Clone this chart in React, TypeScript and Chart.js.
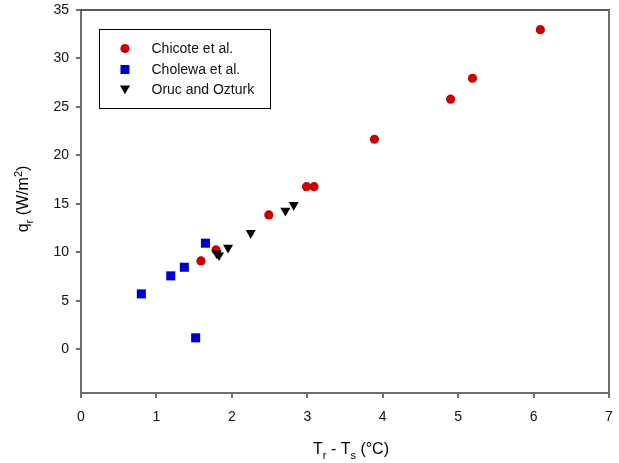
import React, { useEffect, useRef } from 'react';
import { Chart, registerables } from 'chart.js';

Chart.register(...registerables);

// ---- data ----
const chicoteX = [1.59, 1.79, 2.49, 2.99, 3.09, 3.89, 4.9, 5.19, 6.09];
const chicoteY = [9.12, 10.26, 13.87, 16.78, 16.78, 21.67, 25.8, 27.96, 32.97];
const cholewaX = [0.8, 1.19, 1.37, 1.52, 1.65];
const cholewaY = [5.72, 7.58, 8.47, 1.19, 10.95];
const orucX = [1.8, 1.83, 1.95, 2.25, 2.71, 2.82];
const orucY = [9.9, 9.7, 10.49, 12.0, 14.3, 14.9];

const seriesNames = ['Chicote et al.', 'Cholewa et al.', 'Oruc and Ozturk'];
const xTicks = [0, 1, 2, 3, 4, 5, 6, 7];
const yTicks = [0, 5, 10, 15, 20, 25, 30, 35];
const xMin = 0;
const xMax = 7;
const yMin = -4.5;
const yMax = 35;

const RED = '#cc0000';
const BLUE = '#0000cc';
const BLACK = '#000000';
const AXIS = '#6e6e6e';
const FONT = '"Liberation Sans", Arial, sans-serif';

type Seg = { t: string; k?: 'sub' | 'sup' };

function segFont(size: number, k?: string) {
  return `${k ? Math.round(size * 0.68) : size}px ${FONT}`;
}

function measureRich(ctx: CanvasRenderingContext2D, segs: Seg[], size: number) {
  let w = 0;
  for (const s of segs) {
    ctx.font = segFont(size, s.k);
    w += ctx.measureText(s.t).width;
  }
  return w;
}

function drawRich(ctx: CanvasRenderingContext2D, segs: Seg[], size: number, x: number, y: number) {
  ctx.textBaseline = 'alphabetic';
  ctx.textAlign = 'left';
  for (const s of segs) {
    ctx.font = segFont(size, s.k);
    let dy = 0;
    if (s.k === 'sub') dy = size * 0.3;
    if (s.k === 'sup') dy = -size * 0.42;
    ctx.fillText(s.t, x, y + dy);
    x += ctx.measureText(s.t).width;
  }
}

function marker(ctx: CanvasRenderingContext2D, kind: string, x: number, y: number, color: string) {
  ctx.fillStyle = color;
  ctx.beginPath();
  if (kind === 'circle') {
    ctx.arc(x, y, 4.6, 0, Math.PI * 2);
  } else if (kind === 'rect') {
    ctx.rect(x - 4.5, y - 4.5, 9, 9);
  } else {
    const r = 5.8;
    ctx.moveTo(x, y + r);
    ctx.lineTo(x - r * Math.sin(Math.PI / 3), y - r / 2);
    ctx.lineTo(x + r * Math.sin(Math.PI / 3), y - r / 2);
    ctx.closePath();
  }
  ctx.fill();
}

const decorPlugin = {
  id: 'decor',
  afterDraw(chart: any) {
    const ctx: CanvasRenderingContext2D = chart.ctx;
    const a = chart.chartArea;
    ctx.save();
    // top and right frame
    ctx.strokeStyle = '#222';
    ctx.lineWidth = 1.5;
    ctx.beginPath();
    ctx.moveTo(a.left, a.top);
    ctx.lineTo(a.right + 1, a.top);
    ctx.stroke();
    ctx.strokeStyle = AXIS;
    ctx.lineWidth = 2;
    ctx.beginPath();
    ctx.moveTo(a.right, a.top);
    ctx.lineTo(a.right, a.bottom);
    ctx.stroke();

    // x title
    ctx.fillStyle = '#000';
    const xs: Seg[] = [{ t: 'T' }, { t: 'r', k: 'sub' }, { t: ' - T' }, { t: 's', k: 'sub' }, { t: ' (°C)' }];
    const xw = measureRich(ctx, xs, 16);
    drawRich(ctx, xs, 16, 351 - xw / 2, 454);

    // y title
    const ys: Seg[] = [{ t: 'q' }, { t: 'r', k: 'sub' }, { t: ' (W/m' }, { t: '2', k: 'sup' }, { t: ')' }];
    const yw = measureRich(ctx, ys, 16);
    ctx.save();
    ctx.translate(28.3, 199);
    ctx.rotate(-Math.PI / 2);
    drawRich(ctx, ys, 16, -yw / 2, 0);
    ctx.restore();

    // legend
    ctx.fillStyle = '#fff';
    ctx.fillRect(99.5, 29.5, 171, 79);
    ctx.strokeStyle = '#000';
    ctx.lineWidth = 1;
    ctx.strokeRect(99.5, 29.5, 171, 79);
    const kinds = ['circle', 'rect', 'triangle'];
    const colors = [RED, BLUE, BLACK];
    const rows = [48.5, 69.5, 90];
    ctx.font = `14px ${FONT}`;
    for (let i = 0; i < 3; i++) {
      marker(ctx, kinds[i], 125, rows[i] + (i === 2 ? -1.5 : 0), colors[i]);
      ctx.fillStyle = '#111';
      ctx.textBaseline = 'middle';
      ctx.textAlign = 'left';
      ctx.fillText(seriesNames[i], 151.5, rows[i] + 0.5);
    }
    ctx.restore();
  },
};

function pts(xs: number[], ys: number[]) {
  return xs.map((x, i) => ({ x, y: ys[i] }));
}

export default function App() {
  const ref = useRef<HTMLCanvasElement | null>(null);
  useEffect(() => {
    if (!ref.current) return;
    const chart = new Chart(ref.current, {
      type: 'scatter',
      data: {
        datasets: [
          {
            label: seriesNames[0],
            data: pts(chicoteX, chicoteY),
            pointStyle: 'circle',
            pointRadius: 4.6,
            backgroundColor: RED,
            borderColor: RED,
            borderWidth: 0,
            order: 2,
          },
          {
            label: seriesNames[1],
            data: pts(cholewaX, cholewaY),
            pointStyle: 'rect',
            pointRadius: 6.4,
            backgroundColor: BLUE,
            borderColor: BLUE,
            borderWidth: 0,
            order: 1,
          },
          {
            label: seriesNames[2],
            data: pts(orucX, orucY),
            pointStyle: 'triangle',
            pointRotation: 180,
            pointRadius: 5.8,
            backgroundColor: BLACK,
            borderColor: BLACK,
            borderWidth: 0,
            order: 0,
          },
        ],
      },
      options: {
        animation: false,
        responsive: false,
        events: [],
        layout: { padding: { left: 0, right: 10, top: 10, bottom: 0 } },
        plugins: { legend: { display: false }, tooltip: { enabled: false } },
        scales: {
          x: {
            type: 'linear',
            min: xMin,
            max: xMax,
            afterBuildTicks: (s: any) => {
              s.ticks = xTicks.map((v) => ({ value: v }));
            },
            afterFit: (s: any) => {
              s.height = 70;
              s.paddingLeft = 0;
              s.paddingRight = 0;
            },
            ticks: {
              color: '#111',
              font: { family: FONT, size: 14 },
              padding: 11,
              maxRotation: 0,
              autoSkip: false,
            },
            grid: {
              display: true,
              drawOnChartArea: false,
              drawTicks: true,
              tickLength: 5,
              color: AXIS,
              lineWidth: 2,
            },
            border: { display: true, color: AXIS, width: 2 },
          },
          y: {
            type: 'linear',
            min: yMin,
            max: yMax,
            afterBuildTicks: (s: any) => {
              s.ticks = yTicks.map((v) => ({ value: v }));
            },
            afterFit: (s: any) => {
              s.width = 81;
              s.paddingTop = 0;
              s.paddingBottom = 0;
            },
            ticks: {
              color: '#111',
              font: { family: FONT, size: 14 },
              padding: 7,
              autoSkip: false,
            },
            grid: {
              display: true,
              drawOnChartArea: false,
              drawTicks: true,
              tickLength: 5,
              color: AXIS,
              lineWidth: 2,
            },
            border: { display: true, color: AXIS, width: 2 },
          },
        },
      },
      plugins: [decorPlugin],
    });
    return () => chart.destroy();
  }, []);
  return (
    <div style={{ position: 'fixed', left: 0, top: 0, width: 619, height: 463, background: '#fff' }}>
      <canvas ref={ref} width={619} height={463} style={{ display: 'block', width: 619, height: 463 }} />
    </div>
  );
}
